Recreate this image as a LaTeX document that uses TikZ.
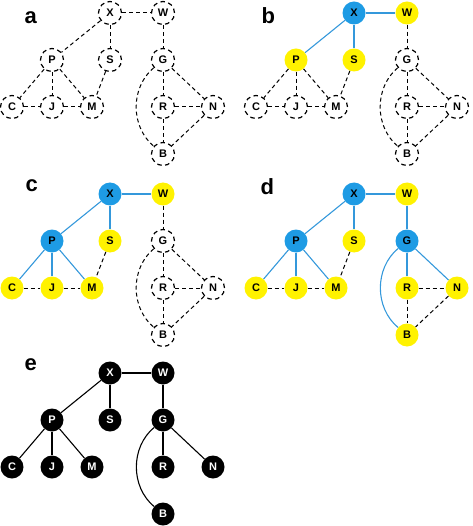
\documentclass[tikz,border=0pt]{standalone}
\usepackage{fontspec}
\setmainfont{Liberation Sans}
\usepackage{tikz}

\definecolor{nodeblue}{RGB}{30,155,228}
\definecolor{nodeyellow}{RGB}{255,242,0}
\definecolor{lineblue}{RGB}{52,152,219}

\tikzset{
  vtx/.style={circle,minimum size=23pt,inner sep=0pt,
    font=\fontsize{11}{11}\selectfont\bfseries},
  vtxopen/.style={vtx,draw,fill=white,line width=1.2pt,
    dash pattern=on 4.5pt off 3.5pt},
  vtxblue/.style={vtx,fill=nodeblue},
  vtxyellow/.style={vtx,fill=nodeyellow},
  vtxblack/.style={vtx,fill=black,text=white},
  dashedge/.style={line width=1pt,dash pattern=on 4pt off 3pt},
  blueedge/.style={line width=1.1pt,lineblue},
  blackedge/.style={line width=1.1pt,black},
  panel/.style={anchor=base west,font=\fontsize{22}{22}\selectfont\bfseries}
}

\begin{document}
\begin{tikzpicture}[x=1pt,y=-1pt]
\useasboundingbox (0,0) rectangle (472,526);

% a
\node[panel] (la) at (21,24) {a};
\foreach \n/\x/\y in {X/110/13,W/163/13,P/52/60,S/110/60,G/163/60,
    C/12/107,J/52/107,M/92/107,R/163/107,N/213/107,B/163/154}
  \node[vtxopen] (a\n) at (\x,\y) {\n};
\foreach \u/\v in {X/W,X/P,X/S,W/G,P/C,P/J,P/M,S/M,C/J,J/M,G/R,G/N,R/N,R/B,N/B}
  \draw[dashedge] (a\u) -- (a\v);
\draw[dashedge] (aG) to[bend right=50] (aB);

% b
\begin{scope}[shift={(244,0)}]
\node[panel] (lb) at (14,24) {b};
\foreach \n/\x/\y/\s in {X/110/13/vtxblue,W/163/13/vtxyellow,P/52/60/vtxyellow,
    S/110/60/vtxyellow,G/163/60/vtxopen,C/12/107/vtxopen,J/52/107/vtxopen,
    M/92/107/vtxopen,R/163/107/vtxopen,N/213/107/vtxopen,B/163/154/vtxopen}
  \node[\s] (b\n) at (\x,\y) {\n};
\foreach \u/\v in {X/W,X/P,X/S}
  \draw[blueedge] (b\u) -- (b\v);
\foreach \u/\v in {W/G,P/C,P/J,P/M,S/M,C/J,J/M,G/R,G/N,R/N,R/B,N/B}
  \draw[dashedge] (b\u) -- (b\v);
\draw[dashedge] (bG) to[bend right=50] (bB);
\end{scope}

% c
\begin{scope}[shift={(0,181)}]
\node[panel] (lc) at (22,11) {c};
\foreach \n/\x/\y/\s in {X/110/13/vtxblue,W/163/13/vtxyellow,P/52/60/vtxblue,
    S/110/60/vtxyellow,G/163/60/vtxopen,C/12/107/vtxyellow,J/52/107/vtxyellow,
    M/92/107/vtxyellow,R/163/107/vtxopen,N/213/107/vtxopen,B/163/154/vtxopen}
  \node[\s] (c\n) at (\x,\y) {\n};
\foreach \u/\v in {X/W,X/P,X/S,P/C,P/J,P/M}
  \draw[blueedge] (c\u) -- (c\v);
\foreach \u/\v in {W/G,S/M,C/J,J/M,G/R,G/N,R/N,R/B,N/B}
  \draw[dashedge] (c\u) -- (c\v);
\draw[dashedge] (cG) to[bend right=50] (cB);
\end{scope}

% d
\begin{scope}[shift={(244,181)}]
\node[panel] (ld) at (13,14) {d};
\foreach \n/\x/\y/\s in {X/110/13/vtxblue,W/163/13/vtxyellow,P/52/60/vtxblue,
    S/110/60/vtxyellow,G/163/60/vtxblue,C/12/107/vtxyellow,J/52/107/vtxyellow,
    M/92/107/vtxyellow,R/163/107/vtxyellow,N/213/107/vtxyellow,B/163/154/vtxyellow}
  \node[\s] (d\n) at (\x,\y) {\n};
\foreach \u/\v in {X/W,X/P,X/S,P/C,P/J,P/M,W/G,G/R,G/N}
  \draw[blueedge] (d\u) -- (d\v);
\foreach \u/\v in {S/M,C/J,J/M,R/N,R/B,N/B}
  \draw[dashedge] (d\u) -- (d\v);
\draw[blueedge] (dG) to[bend right=50] (dB);
\end{scope}

% e
\begin{scope}[shift={(0,360)}]
\node[panel] (le) at (21,10) {e};
\foreach \n/\x/\y in {X/110/13,W/163/13,P/52/60,S/110/60,G/163/60,
    C/12/107,J/52/107,M/92/107,R/163/107,N/213/107,B/163/154}
  \node[vtxblack] (e\n) at (\x,\y) {\n};
\foreach \u/\v in {X/W,X/P,X/S,P/C,P/J,P/M,W/G,G/R,G/N}
  \draw[blackedge] (e\u) -- (e\v);
\draw[blackedge] (eG) to[bend right=50] (eB);
\end{scope}
\end{tikzpicture}
\end{document}
